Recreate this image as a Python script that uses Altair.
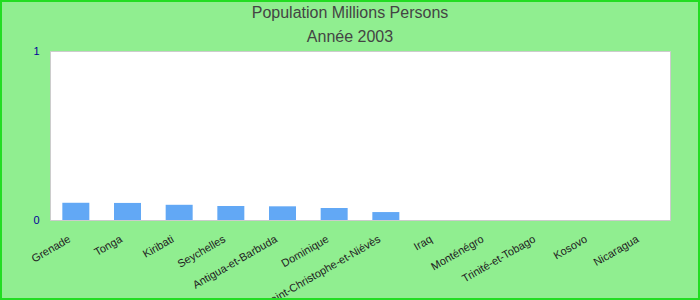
import altair as alt
import pandas as pd

countries = ["Grenade", "Tonga", "Kiribati", "Seychelles", "Antigua-et-Barbuda",
             "Dominique", "Saint-Christophe-et-Niévès", "Iraq", "Monténégro",
             "Trinité-et-Tobago", "Kosovo", "Nicaragua"]
population = [0.102, 0.101, 0.090, 0.083, 0.081, 0.071, 0.047, 0, 0, 0, 0, 0]

df = pd.DataFrame({"pays": countries, "pop": population})

FONT = "Liberation Sans"

bars = alt.Chart(df).mark_bar(color="#62A8F5", width=27).encode(
    x=alt.X("pays:N", sort=countries, title=None,
            scale=alt.Scale(paddingInner=0.0, paddingOuter=0.0),
            axis=alt.Axis(labelAngle=-30, labelAlign="right", labelBaseline="top",
                          labelPadding=13, labelOffset=-9, ticks=False, domain=False,
                          labelFont=FONT, labelFontSize=11, labelColor="#222222",
                          labelOverlap=False, labelLimit=300)),
    y=alt.Y("pop:Q", title=None, scale=alt.Scale(domain=[0, 1], nice=False),
            axis=alt.Axis(values=[0, 1], format="d", grid=False, ticks=False, domain=False,
                          labelFont=FONT, labelFontSize=11, labelColor="#000099",
                          labelPadding=11)),
)

border = alt.Chart(pd.DataFrame({"a": [0]})).mark_rect(
    fill=None, stroke="#22DD22", strokeWidth=2, clip=False
).encode(
    x=alt.value(-49), x2=alt.value(649), y=alt.value(-50), y2=alt.value(248)
)

chart = alt.layer(bars, border).properties(
    width=620, height=169,
    padding={"left": 50, "top": 51, "right": 30, "bottom": 80},
    autosize=alt.AutoSizeParams(type="none"),
    background="#90EE90",
    title=alt.TitleParams(
        text="Population Millions Persons", subtitle="Année 2003",
        font=FONT, fontSize=16, fontWeight="normal", color="#444444",
        subtitleFont=FONT, subtitleFontSize=16, subtitleColor="#444444",
        subtitlePadding=8, offset=-45, dx=-10, anchor="middle", frame="group",
    ),
).configure_view(
    fill="white", stroke="#CCCCCC", strokeWidth=1
)

chart.save("out.html", embed_options={"renderer": "svg", "actions": False})
